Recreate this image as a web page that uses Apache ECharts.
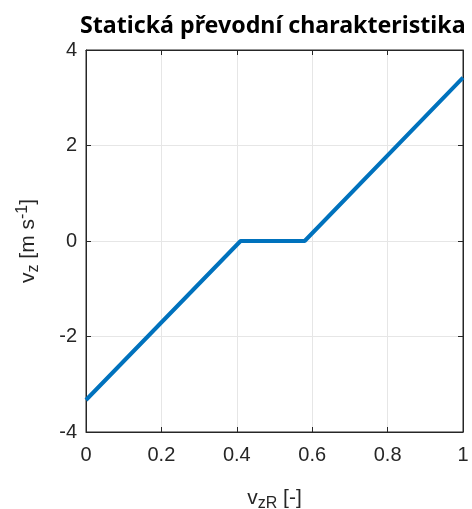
<!DOCTYPE html>
<html><head><meta charset="utf-8">
<script src="https://cdn.jsdelivr.net/npm/echarts@6/dist/echarts.min.js"></script>
<style>html,body{margin:0;padding:0;background:#fff}#c{width:472px;height:509px}</style>
</head><body><div id="c"></div>
<script>
const xValues = [0, 0.41, 0.58, 1];
const yValues = [-3.33, 0, 0, 3.42];
const xTicks = [0, 0.2, 0.4, 0.6, 0.8, 1];
const yTicks = [-4, -2, 0, 2, 4];

const data = xValues.map((x, i) => [x, yValues[i]]);
const axisColor = '#262626';
const font = 'Liberation Sans, Arial, sans-serif';
const chart = echarts.init(document.getElementById('c'));
chart.setOption({
  animation: false,
  title: {
    text: 'Statická převodní charakteristika',
    left: 75, top: 10,
    textStyle: {fontFamily: 'Noto Sans', fontWeight: 'bold', fontSize: 23.2, color: '#000'}
  },
  grid: {left: 86, right: 9, top: 50, bottom: 77, show: true, borderColor: axisColor, borderWidth: 1, outerBoundsMode: 'none', containLabel: false},
  xAxis: [{
    type: 'value', min: 0, max: 1, interval: 0.2,
    name: '{a|v}{s|zR}{a| [-]}', nameLocation: 'middle', nameGap: 52,
    nameTextStyle: {rich: {a: {fontSize: 21, fontFamily: font, color: axisColor}, s: {fontSize: 16, fontFamily: font, color: axisColor, padding: [12,0,0,0]}}},
    axisLine: {show: true, onZero: false, lineStyle: {color: axisColor}},
    axisTick: {show: true, inside: true, length: 5, lineStyle: {color: axisColor}},
    axisLabel: {fontSize: 20, fontFamily: font, color: axisColor, margin: 13, formatter: v => String(+v.toFixed(1))},
    splitLine: {show: true, lineStyle: {color: '#e6e6e6'}}
  }, {
    type: 'value', min: 0, max: 1, interval: 0.2, position: 'top',
    axisLine: {show: true, onZero: false, lineStyle: {color: axisColor}},
    axisTick: {show: true, inside: true, length: 5, lineStyle: {color: axisColor}},
    axisLabel: {show: false}, splitLine: {show: false}
  }],
  yAxis: [{
    type: 'value', min: -4, max: 4, interval: 2,
    name: '{a|v}{s|z}{a| [m s}{p|-1}{a|]}', nameLocation: 'middle', nameGap: 44, nameRotate: 90,
    nameTextStyle: {rich: {a: {fontSize: 21, fontFamily: font, color: axisColor}, s: {fontSize: 16, fontFamily: font, color: axisColor, padding: [12,0,0,0]}, p: {fontSize: 16, fontFamily: font, color: axisColor, padding: [0,0,10,0]}}},
    axisLine: {show: true, onZero: false, lineStyle: {color: axisColor}},
    axisTick: {show: true, inside: true, length: 5, lineStyle: {color: axisColor}},
    axisLabel: {fontSize: 20, fontFamily: font, color: axisColor, margin: 9},
    splitLine: {show: true, lineStyle: {color: '#e6e6e6'}}
  }, {
    type: 'value', min: -4, max: 4, interval: 2, position: 'right',
    axisLine: {show: true, onZero: false, lineStyle: {color: axisColor}},
    axisTick: {show: true, inside: true, length: 5, lineStyle: {color: axisColor}},
    axisLabel: {show: false}, splitLine: {show: false}
  }],
  series: [{
    type: 'line', data: data, showSymbol: false, symbol: 'none',
    lineStyle: {color: '#0072BD', width: 4}, clip: true
  }]
});
</script></body></html>
